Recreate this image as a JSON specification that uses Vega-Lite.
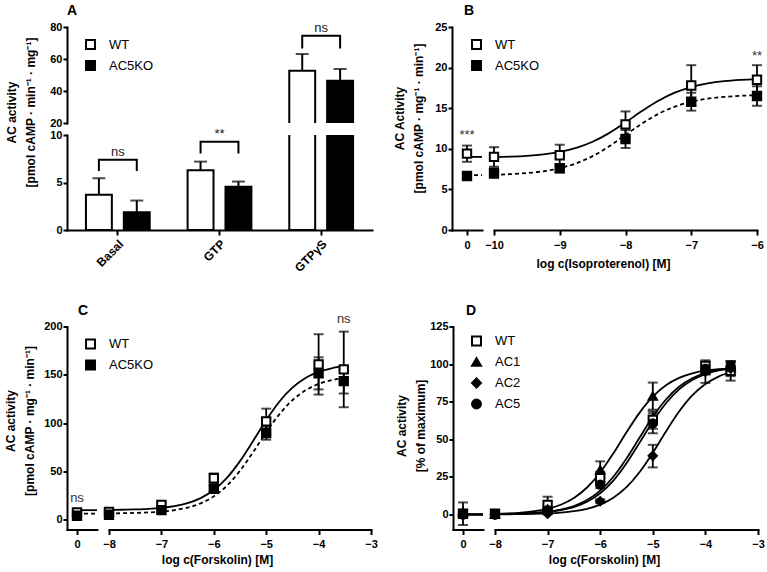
{
  "$schema": "https://vega.github.io/schema/vega-lite/v6.json",
  "background": "white",
  "padding": {"left": 3, "top": 4, "right": 5, "bottom": 5},
  "config": {
    "font": "Liberation Sans",
    "view": {"stroke": null},
    "axis": {"domainColor": "black", "domainWidth": 2, "domainCap": "square", "tickColor": "black", "tickWidth": 2, "labelFont": "Liberation Sans", "labelFontWeight": "bold", "labelFontSize": 11, "labelColor": "black", "titleFont": "Liberation Sans", "titleFontWeight": "bold", "titleFontSize": 12, "titleColor": "black", "grid": false, "labelFlush": false, "labelOverlap": false},
    "axisX": {"tickSize": 5, "labelPadding": 4},
    "axisY": {"tickSize": 4, "labelPadding": 1, "titleLineHeight": 19},
    "legend": {"symbolStrokeColor": "black", "symbolStrokeWidth": 2, "symbolSize": 80, "symbolBaseFillColor": "transparent", "labelFont": "Liberation Sans", "labelFontSize": 13, "labelColor": "black", "labelOffset": 12, "rowPadding": 4, "padding": 0},
    "title": {"anchor": "start", "frame": "group", "fontSize": 14, "font": "Liberation Sans", "fontWeight": "bold", "color": "black"}
  },
  "datasets": {
    "bars": [
      {"group": "Basal", "cond": "WT", "mean": 3.7, "hi": 5.45},
      {"group": "Basal", "cond": "AC5KO", "mean": 1.86, "hi": 3.1},
      {"group": "GTP", "cond": "WT", "mean": 6.3, "hi": 7.2},
      {"group": "GTP", "cond": "AC5KO", "mean": 4.56, "hi": 5.1},
      {"group": "GTPγS", "cond": "WT", "mean": 52.7, "hi": 63.1},
      {"group": "GTPγS", "cond": "AC5KO", "mean": 46.4, "hi": 53.75}
    ],
    "brackets": [
      {"group": "Basal", "cond": "WT", "y": 6.2, "k": 1},
      {"group": "Basal", "cond": "WT", "y": 7.4, "k": 2},
      {"group": "Basal", "cond": "AC5KO", "y": 7.4, "k": 3},
      {"group": "Basal", "cond": "AC5KO", "y": 6.2, "k": 4},
      {"group": "GTP", "cond": "WT", "y": 8.05, "k": 1},
      {"group": "GTP", "cond": "WT", "y": 9.28, "k": 2},
      {"group": "GTP", "cond": "AC5KO", "y": 9.28, "k": 3},
      {"group": "GTP", "cond": "AC5KO", "y": 8.05, "k": 4},
      {"group": "GTPγS", "cond": "WT", "y": 66.6, "k": 1},
      {"group": "GTPγS", "cond": "WT", "y": 74.5, "k": 2},
      {"group": "GTPγS", "cond": "AC5KO", "y": 74.5, "k": 3},
      {"group": "GTPγS", "cond": "AC5KO", "y": 66.6, "k": 4}
    ],
    "anotes": [
      {"group": "Basal", "label": "ns", "y": 7.4},
      {"group": "GTP", "label": "**", "y": 9.28},
      {"group": "GTPγS", "label": "ns", "y": 74.5}
    ],
    "bpts": [
      {"s": "WT", "x": 0, "mean": 9.4, "lo": 8.4, "hi": 10.4},
      {"s": "WT", "x": -10, "mean": 9.0, "lo": 7.8, "hi": 10.2},
      {"s": "WT", "x": -9, "mean": 9.2, "lo": 7.9, "hi": 10.5},
      {"s": "WT", "x": -8, "mean": 13.0, "lo": 11.4, "hi": 14.6},
      {"s": "WT", "x": -7, "mean": 17.8, "lo": 15.3, "hi": 20.3},
      {"s": "WT", "x": -6, "mean": 18.5, "lo": 16.7, "hi": 20.3},
      {"s": "AC5KO", "x": 0, "mean": 6.65, "lo": 6.2, "hi": 7.1},
      {"s": "AC5KO", "x": -10, "mean": 7.0, "lo": 6.4, "hi": 7.6},
      {"s": "AC5KO", "x": -9, "mean": 7.6, "lo": 7.1, "hi": 8.1},
      {"s": "AC5KO", "x": -8, "mean": 11.2, "lo": 10.1, "hi": 12.3},
      {"s": "AC5KO", "x": -7, "mean": 15.8, "lo": 14.7, "hi": 16.9},
      {"s": "AC5KO", "x": -6, "mean": 16.5, "lo": 15.3, "hi": 17.7}
    ],
    "bcurve": [
      {"s": "WT", "x": 0, "y": 9.0}, {"s": "WT", "x": 1, "y": 9.0},
      {"s": "WT", "x": -10, "y": 8.98}, {"s": "WT", "x": -9.75, "y": 9.04}, {"s": "WT", "x": -9.5, "y": 9.14}, {"s": "WT", "x": -9.25, "y": 9.32},
      {"s": "WT", "x": -9, "y": 9.62}, {"s": "WT", "x": -8.75, "y": 10.11}, {"s": "WT", "x": -8.5, "y": 10.87}, {"s": "WT", "x": -8.25, "y": 11.93},
      {"s": "WT", "x": -8, "y": 13.24}, {"s": "WT", "x": -7.75, "y": 14.64}, {"s": "WT", "x": -7.5, "y": 15.91}, {"s": "WT", "x": -7.25, "y": 16.91},
      {"s": "WT", "x": -7, "y": 17.6}, {"s": "WT", "x": -6.75, "y": 18.05}, {"s": "WT", "x": -6.5, "y": 18.33}, {"s": "WT", "x": -6.25, "y": 18.49},
      {"s": "WT", "x": -6, "y": 18.58},
      {"s": "AC5KO", "x": 0, "y": 6.75}, {"s": "AC5KO", "x": 1, "y": 6.75},
      {"s": "AC5KO", "x": -10, "y": 6.8}, {"s": "AC5KO", "x": -9.75, "y": 6.88}, {"s": "AC5KO", "x": -9.5, "y": 7.01}, {"s": "AC5KO", "x": -9.25, "y": 7.23},
      {"s": "AC5KO", "x": -9, "y": 7.61}, {"s": "AC5KO", "x": -8.75, "y": 8.21}, {"s": "AC5KO", "x": -8.5, "y": 9.1}, {"s": "AC5KO", "x": -8.25, "y": 10.3},
      {"s": "AC5KO", "x": -8, "y": 11.7}, {"s": "AC5KO", "x": -7.75, "y": 13.1}, {"s": "AC5KO", "x": -7.5, "y": 14.3}, {"s": "AC5KO", "x": -7.25, "y": 15.19},
      {"s": "AC5KO", "x": -7, "y": 15.79}, {"s": "AC5KO", "x": -6.75, "y": 16.17}, {"s": "AC5KO", "x": -6.5, "y": 16.39}, {"s": "AC5KO", "x": -6.25, "y": 16.53},
      {"s": "AC5KO", "x": -6, "y": 16.6}
    ],
    "cpts": [
      {"s": "WT", "x": 0, "mean": 7.6, "lo": 5.5, "hi": 9.7},
      {"s": "WT", "x": -8, "mean": 8.3, "lo": 6.5, "hi": 10.1},
      {"s": "WT", "x": -7, "mean": 15.3, "lo": 12.3, "hi": 18.3},
      {"s": "WT", "x": -6, "mean": 43, "lo": 38, "hi": 48},
      {"s": "WT", "x": -5, "mean": 101.9, "lo": 88.8, "hi": 115},
      {"s": "WT", "x": -4, "mean": 160.8, "lo": 129.6, "hi": 192},
      {"s": "WT", "x": -3.52, "mean": 155.6, "lo": 116.5, "hi": 194.7},
      {"s": "AC5KO", "x": 0, "mean": 4.2, "lo": 2.2, "hi": 6.2},
      {"s": "AC5KO", "x": -8, "mean": 5.2, "lo": 3.5, "hi": 6.9},
      {"s": "AC5KO", "x": -7, "mean": 10, "lo": 8, "hi": 12},
      {"s": "AC5KO", "x": -6, "mean": 32, "lo": 29, "hi": 35},
      {"s": "AC5KO", "x": -5, "mean": 89.8, "lo": 82.9, "hi": 96.7},
      {"s": "AC5KO", "x": -4, "mean": 151.5, "lo": 134.9, "hi": 168.1},
      {"s": "AC5KO", "x": -3.52, "mean": 143.5, "lo": 130.7, "hi": 156.3}
    ],
    "ccurve": [
      {"s": "WT", "x": 0, "y": 10}, {"s": "WT", "x": 2, "y": 10},
      {"s": "WT", "x": -8, "y": 10.24}, {"s": "WT", "x": -7.75, "y": 10.43}, {"s": "WT", "x": -7.5, "y": 10.76}, {"s": "WT", "x": -7.25, "y": 11.34},
      {"s": "WT", "x": -7, "y": 12.37}, {"s": "WT", "x": -6.75, "y": 14.17}, {"s": "WT", "x": -6.5, "y": 17.25}, {"s": "WT", "x": -6.25, "y": 22.44},
      {"s": "WT", "x": -6, "y": 30.79}, {"s": "WT", "x": -5.75, "y": 43.42}, {"s": "WT", "x": -5.5, "y": 60.75}, {"s": "WT", "x": -5.25, "y": 81.63},
      {"s": "WT", "x": -5, "y": 103.2}, {"s": "WT", "x": -4.75, "y": 122.2}, {"s": "WT", "x": -4.5, "y": 136.7}, {"s": "WT", "x": -4.25, "y": 146.7},
      {"s": "WT", "x": -4, "y": 153.0}, {"s": "WT", "x": -3.75, "y": 156.8}, {"s": "WT", "x": -3.52, "y": 158.9},
      {"s": "AC5KO", "x": 0, "y": 6.5}, {"s": "AC5KO", "x": 2, "y": 6.5},
      {"s": "AC5KO", "x": -8, "y": 6.7}, {"s": "AC5KO", "x": -7.75, "y": 6.86}, {"s": "AC5KO", "x": -7.5, "y": 7.14}, {"s": "AC5KO", "x": -7.25, "y": 7.63},
      {"s": "AC5KO", "x": -7, "y": 8.5}, {"s": "AC5KO", "x": -6.75, "y": 10.02}, {"s": "AC5KO", "x": -6.5, "y": 12.63}, {"s": "AC5KO", "x": -6.25, "y": 17.06},
      {"s": "AC5KO", "x": -6, "y": 24.27}, {"s": "AC5KO", "x": -5.75, "y": 35.31}, {"s": "AC5KO", "x": -5.5, "y": 50.8}, {"s": "AC5KO", "x": -5.25, "y": 70.03},
      {"s": "AC5KO", "x": -5, "y": 90.52}, {"s": "AC5KO", "x": -4.75, "y": 109.15}, {"s": "AC5KO", "x": -4.5, "y": 123.74}, {"s": "AC5KO", "x": -4.25, "y": 133.96},
      {"s": "AC5KO", "x": -4, "y": 140.52}, {"s": "AC5KO", "x": -3.75, "y": 144.5}, {"s": "AC5KO", "x": -3.52, "y": 146.72}
    ],
    "dpts": [
      {"s": "WT", "x": 0, "mean": 0.5, "lo": -7, "hi": 8},
      {"s": "WT", "x": -8, "mean": 0.5, "lo": -0.5, "hi": 1.5},
      {"s": "WT", "x": -7, "mean": 6.3, "lo": 0.8, "hi": 11.8},
      {"s": "WT", "x": -6, "mean": 24.2, "lo": 20, "hi": 28.4},
      {"s": "WT", "x": -5, "mean": 62.8, "lo": 57, "hi": 68.6},
      {"s": "WT", "x": -4, "mean": 98.7, "lo": 96, "hi": 101.4},
      {"s": "WT", "x": -3.52, "mean": 95.5, "lo": 89, "hi": 102},
      {"s": "AC1", "x": 0, "mean": 1.5, "lo": 0, "hi": 3},
      {"s": "AC1", "x": -8, "mean": 0, "lo": -0.5, "hi": 0.5},
      {"s": "AC1", "x": -7, "mean": 3.5, "lo": 2.5, "hi": 4.5},
      {"s": "AC1", "x": -6, "mean": 29.7, "lo": 24.1, "hi": 35.3},
      {"s": "AC1", "x": -5, "mean": 78.7, "lo": 69.7, "hi": 87.7},
      {"s": "AC1", "x": -4, "mean": 96, "lo": 93, "hi": 99},
      {"s": "AC1", "x": -3.52, "mean": 98, "lo": 95, "hi": 101},
      {"s": "AC2", "x": 0, "mean": 0, "lo": -1, "hi": 1},
      {"s": "AC2", "x": -8, "mean": 0, "lo": -0.5, "hi": 0.5},
      {"s": "AC2", "x": -7, "mean": 0.5, "lo": 0, "hi": 1},
      {"s": "AC2", "x": -6, "mean": 8.8, "lo": 7.5, "hi": 10.1},
      {"s": "AC2", "x": -5, "mean": 39, "lo": 31.3, "hi": 46.3},
      {"s": "AC2", "x": -4, "mean": 95, "lo": 87.5, "hi": 102.5},
      {"s": "AC2", "x": -3.52, "mean": 97, "lo": 92, "hi": 102},
      {"s": "AC5", "x": 0, "mean": 0, "lo": -1, "hi": 1},
      {"s": "AC5", "x": -8, "mean": 0, "lo": -0.5, "hi": 0.5},
      {"s": "AC5", "x": -7, "mean": 2.8, "lo": 2, "hi": 3.6},
      {"s": "AC5", "x": -6, "mean": 19.8, "lo": 17.5, "hi": 22.1},
      {"s": "AC5", "x": -5, "mean": 60.6, "lo": 54, "hi": 67.2},
      {"s": "AC5", "x": -4, "mean": 97, "lo": 95, "hi": 99},
      {"s": "AC5", "x": -3.52, "mean": 98.5, "lo": 96, "hi": 101}
    ],
    "dcurve": [
      {"s": "WT", "x": 0, "y": 0}, {"s": "WT", "x": 2, "y": 0},
      {"s": "AC1", "x": 0, "y": 0}, {"s": "AC1", "x": 2, "y": 0},
      {"s": "AC2", "x": 0, "y": 0}, {"s": "AC2", "x": 2, "y": 0},
      {"s": "AC5", "x": 0, "y": 0}, {"s": "AC5", "x": 2, "y": 0},
      {"s": "AC1", "x": -8, "y": 0.39}, {"s": "AC1", "x": -7.75, "y": 0.69}, {"s": "AC1", "x": -7.5, "y": 1.22}, {"s": "AC1", "x": -7.25, "y": 2.15},
      {"s": "AC1", "x": -7, "y": 3.75}, {"s": "AC1", "x": -6.75, "y": 6.48}, {"s": "AC1", "x": -6.5, "y": 10.96}, {"s": "AC1", "x": -6.25, "y": 17.93},
      {"s": "AC1", "x": -6, "y": 27.9}, {"s": "AC1", "x": -5.75, "y": 40.61}, {"s": "AC1", "x": -5.5, "y": 54.61}, {"s": "AC1", "x": -5.25, "y": 67.74},
      {"s": "AC1", "x": -5, "y": 78.32}, {"s": "AC1", "x": -4.75, "y": 85.87}, {"s": "AC1", "x": -4.5, "y": 90.79}, {"s": "AC1", "x": -4.25, "y": 93.81},
      {"s": "AC1", "x": -4, "y": 95.6}, {"s": "AC1", "x": -3.75, "y": 96.63}, {"s": "AC1", "x": -3.52, "y": 97.19},
      {"s": "WT", "x": -8, "y": 0.19}, {"s": "WT", "x": -7.75, "y": 0.33}, {"s": "WT", "x": -7.5, "y": 0.59}, {"s": "WT", "x": -7.25, "y": 1.05},
      {"s": "WT", "x": -7, "y": 1.85}, {"s": "WT", "x": -6.75, "y": 3.25}, {"s": "WT", "x": -6.5, "y": 5.63}, {"s": "WT", "x": -6.25, "y": 9.58},
      {"s": "WT", "x": -6, "y": 15.85}, {"s": "WT", "x": -5.75, "y": 25.06}, {"s": "WT", "x": -5.5, "y": 37.22}, {"s": "WT", "x": -5.25, "y": 51.21},
      {"s": "WT", "x": -5, "y": 64.93}, {"s": "WT", "x": -4.75, "y": 76.44}, {"s": "WT", "x": -4.5, "y": 84.91}, {"s": "WT", "x": -4.25, "y": 90.55},
      {"s": "WT", "x": -4, "y": 94.07}, {"s": "WT", "x": -3.75, "y": 96.16}, {"s": "WT", "x": -3.52, "y": 97.31},
      {"s": "AC5", "x": -8, "y": 0.16}, {"s": "AC5", "x": -7.75, "y": 0.29}, {"s": "AC5", "x": -7.5, "y": 0.52}, {"s": "AC5", "x": -7.25, "y": 0.92},
      {"s": "AC5", "x": -7, "y": 1.62}, {"s": "AC5", "x": -6.75, "y": 2.84}, {"s": "AC5", "x": -6.5, "y": 4.94}, {"s": "AC5", "x": -6.25, "y": 8.45},
      {"s": "AC5", "x": -6, "y": 14.09}, {"s": "AC5", "x": -5.75, "y": 22.56}, {"s": "AC5", "x": -5.5, "y": 34.08}, {"s": "AC5", "x": -5.25, "y": 47.78},
      {"s": "AC5", "x": -5, "y": 61.77}, {"s": "AC5", "x": -4.75, "y": 73.95}, {"s": "AC5", "x": -4.5, "y": 83.16}, {"s": "AC5", "x": -4.25, "y": 89.41},
      {"s": "AC5", "x": -4, "y": 93.37}, {"s": "AC5", "x": -3.75, "y": 95.75}, {"s": "AC5", "x": -3.52, "y": 97.06},
      {"s": "AC2", "x": -8, "y": 0.07}, {"s": "AC2", "x": -7.75, "y": 0.12}, {"s": "AC2", "x": -7.5, "y": 0.22}, {"s": "AC2", "x": -7.25, "y": 0.39},
      {"s": "AC2", "x": -7, "y": 0.7}, {"s": "AC2", "x": -6.75, "y": 1.23}, {"s": "AC2", "x": -6.5, "y": 2.17}, {"s": "AC2", "x": -6.25, "y": 3.79},
      {"s": "AC2", "x": -6, "y": 6.54}, {"s": "AC2", "x": -5.75, "y": 11.07}, {"s": "AC2", "x": -5.5, "y": 18.11}, {"s": "AC2", "x": -5.25, "y": 28.19},
      {"s": "AC2", "x": -5, "y": 41.03}, {"s": "AC2", "x": -4.75, "y": 55.17}, {"s": "AC2", "x": -4.5, "y": 68.43}, {"s": "AC2", "x": -4.25, "y": 79.12},
      {"s": "AC2", "x": -4, "y": 86.74}, {"s": "AC2", "x": -3.75, "y": 91.71}, {"s": "AC2", "x": -3.52, "y": 94.57}
    ]
  },
  "bounds": "full",
  "spacing": 29.5,
  "resolve": {"scale": {"fill": "independent", "shape": "independent"}},
  "vconcat": [
    {
      "bounds": "full",
      "spacing": 20,
      "resolve": {"scale": {"fill": "independent", "shape": "independent"}},
      "hconcat": [
        {
          "bounds": "flush",
          "spacing": 12,
          "resolve": {"scale": {"fill": "independent", "shape": "independent"}},
          "vconcat": [
            {
              "width": 305, "height": 96,
              "title": {"text": "A", "anchor": "start", "frame": "group", "dx": 0, "offset": 3},
              "encoding": {"x": {"field": "group", "type": "nominal", "scale": {"domain": ["Basal", "GTP", "GTPγS"], "paddingInner": 0, "paddingOuter": 0}, "axis": null}},
              "layer": [
                {"data": {"name": "bars"}, "transform": [{"filter": "datum.group === 'GTPγS'"}],
                 "mark": {"type": "rule", "color": "black", "strokeWidth": 2},
                 "encoding": {"xOffset": {"field": "cond", "type": "nominal", "scale": {"domain": ["WT", "AC5KO"], "paddingInner": 0.316, "paddingOuter": 0.5}},
                              "y": {"field": "mean", "type": "quantitative", "scale": {"domain": [20, 80], "nice": false, "zero": false}, "axis": {"values": [20, 40, 60, 80], "title": null}},
                              "y2": {"field": "hi"}}},
                {"data": {"name": "bars"}, "transform": [{"filter": "datum.group === 'GTPγS'"}],
                 "mark": {"type": "tick", "orient": "horizontal", "size": 13, "thickness": 2, "color": "black"},
                 "encoding": {"xOffset": {"field": "cond", "type": "nominal", "scale": {"domain": ["WT", "AC5KO"], "paddingInner": 0.316, "paddingOuter": 0.5}},
                              "y": {"field": "hi", "type": "quantitative", "scale": {"domain": [20, 80], "nice": false, "zero": false}, "axis": {"values": [20, 40, 60, 80], "title": null}}}},
                {"data": {"name": "bars"},
                 "mark": {"type": "bar", "stroke": "black", "strokeWidth": 2, "clip": true},
                 "encoding": {"xOffset": {"field": "cond", "type": "nominal", "scale": {"domain": ["WT", "AC5KO"], "paddingInner": 0.316, "paddingOuter": 0.5}},
                              "y": {"field": "mean", "type": "quantitative", "scale": {"domain": [20, 80], "nice": false, "zero": false}, "axis": {"values": [20, 40, 60, 80], "title": null}},
                              "fill": {"field": "cond", "type": "nominal", "scale": {"domain": ["WT", "AC5KO"], "range": ["white", "black"]}, "legend": {"orient": "none", "legendX": 17, "legendY": 11, "title": null, "symbolType": "square"}}}},
                {"data": {"name": "brackets"}, "transform": [{"filter": "datum.group === 'GTPγS'"}],
                 "mark": {"type": "line", "color": "black", "strokeWidth": 2},
                 "encoding": {"xOffset": {"field": "cond", "type": "nominal", "scale": {"domain": ["WT", "AC5KO"], "paddingInner": 0.316, "paddingOuter": 0.5}},
                              "y": {"field": "y", "type": "quantitative", "scale": {"domain": [20, 80], "nice": false, "zero": false}, "axis": {"values": [20, 40, 60, 80], "title": null}},
                              "detail": {"field": "group"},
                              "order": {"field": "k", "type": "quantitative"}}},
                {"data": {"name": "anotes"}, "transform": [{"filter": "datum.group === 'GTPγS'"}],
                 "mark": {"type": "text", "font": "Liberation Sans", "fontSize": 13, "color": "#222222", "dy": -4, "baseline": "alphabetic"},
                 "encoding": {"y": {"field": "y", "type": "quantitative", "scale": {"domain": [20, 80], "nice": false, "zero": false}, "axis": {"values": [20, 40, 60, 80], "title": null}},
                              "text": {"field": "label"}}}
              ]
            },
            {
              "width": 305, "height": 95,
              "encoding": {"x": {"field": "group", "type": "nominal", "scale": {"domain": ["Basal", "GTP", "GTPγS"], "paddingInner": 0, "paddingOuter": 0}, "axis": {"title": null, "labelAngle": -45, "labelFontSize": 12, "labelPadding": 3}}},
              "layer": [
                {"data": {"name": "bars"}, "transform": [{"filter": "datum.group !== 'GTPγS'"}],
                 "mark": {"type": "rule", "color": "black", "strokeWidth": 2},
                 "encoding": {"xOffset": {"field": "cond", "type": "nominal", "scale": {"domain": ["WT", "AC5KO"], "paddingInner": 0.316, "paddingOuter": 0.5}},
                              "y": {"field": "mean", "type": "quantitative", "scale": {"domain": [0, 10], "nice": false}, "axis": {"values": [0, 5, 10], "title": ["AC activity", "[pmol cAMP · min⁻¹ · mg⁻¹]"], "titleX": -49, "titleY": -23}},
                              "y2": {"field": "hi"}}},
                {"data": {"name": "bars"}, "transform": [{"filter": "datum.group !== 'GTPγS'"}],
                 "mark": {"type": "tick", "orient": "horizontal", "size": 13, "thickness": 2, "color": "black"},
                 "encoding": {"xOffset": {"field": "cond", "type": "nominal", "scale": {"domain": ["WT", "AC5KO"], "paddingInner": 0.316, "paddingOuter": 0.5}},
                              "y": {"field": "hi", "type": "quantitative", "scale": {"domain": [0, 10], "nice": false}, "axis": {"values": [0, 5, 10], "title": ["AC activity", "[pmol cAMP · min⁻¹ · mg⁻¹]"], "titleX": -49, "titleY": -23}}}},
                {"data": {"name": "bars"},
                 "mark": {"type": "bar", "stroke": "black", "strokeWidth": 2, "clip": true},
                 "encoding": {"xOffset": {"field": "cond", "type": "nominal", "scale": {"domain": ["WT", "AC5KO"], "paddingInner": 0.316, "paddingOuter": 0.5}},
                              "y": {"field": "mean", "type": "quantitative", "scale": {"domain": [0, 10], "nice": false}, "axis": {"values": [0, 5, 10], "title": ["AC activity", "[pmol cAMP · min⁻¹ · mg⁻¹]"], "titleX": -49, "titleY": -23}},
                              "fill": {"field": "cond", "type": "nominal", "scale": {"domain": ["WT", "AC5KO"], "range": ["white", "black"]}, "legend": null}}},
                {"data": {"name": "brackets"}, "transform": [{"filter": "datum.group !== 'GTPγS'"}],
                 "mark": {"type": "line", "color": "black", "strokeWidth": 2},
                 "encoding": {"xOffset": {"field": "cond", "type": "nominal", "scale": {"domain": ["WT", "AC5KO"], "paddingInner": 0.316, "paddingOuter": 0.5}},
                              "y": {"field": "y", "type": "quantitative", "scale": {"domain": [0, 10], "nice": false}, "axis": {"values": [0, 5, 10], "title": ["AC activity", "[pmol cAMP · min⁻¹ · mg⁻¹]"], "titleX": -49, "titleY": -23}},
                              "detail": {"field": "group"},
                              "order": {"field": "k", "type": "quantitative"}}},
                {"data": {"name": "anotes"}, "transform": [{"filter": "datum.group !== 'GTPγS'"}],
                 "mark": {"type": "text", "font": "Liberation Sans", "fontSize": 13, "color": "#222222", "dy": -4, "baseline": "alphabetic"},
                 "encoding": {"y": {"field": "y", "type": "quantitative", "scale": {"domain": [0, 10], "nice": false}, "axis": {"values": [0, 5, 10], "title": ["AC activity", "[pmol cAMP · min⁻¹ · mg⁻¹]"], "titleX": -49, "titleY": -23}},
                              "text": {"field": "label"}}}
              ]
            }
          ]
        },
        {
          "bounds": "flush",
          "spacing": 12,
          "resolve": {"scale": {"fill": "independent", "shape": "independent"}},
          "hconcat": [
            {
              "width": 30, "height": 203,
              "title": {"text": "B", "anchor": "start", "frame": "group", "dx": 12, "offset": 3},
              "encoding": {"x": {"field": "x", "type": "quantitative", "scale": {"domain": [-1, 1], "nice": false, "zero": false}, "axis": {"values": [0], "title": null}}},
              "layer": [
                {"data": {"name": "bcurve"}, "transform": [{"filter": "datum.x >= 0 && datum.s === 'WT'"}],
                 "mark": {"type": "line", "color": "black", "strokeWidth": 1.8},
                 "encoding": {"y": {"field": "y", "type": "quantitative", "scale": {"domain": [0, 25], "nice": false}, "axis": {"values": [0, 5, 10, 15, 20, 25], "title": ["AC Activity", "[pmol cAMP · mg⁻¹ · min⁻¹]"], "titleX": -46, "titleY": 91}}}},
                {"data": {"name": "bcurve"}, "transform": [{"filter": "datum.x >= 0 && datum.s === 'AC5KO'"}],
                 "mark": {"type": "line", "color": "black", "strokeWidth": 1.8, "strokeDash": [4, 3]},
                 "encoding": {"y": {"field": "y", "type": "quantitative", "scale": {"domain": [0, 25], "nice": false}, "axis": {"values": [0, 5, 10, 15, 20, 25], "title": ["AC Activity", "[pmol cAMP · mg⁻¹ · min⁻¹]"], "titleX": -46, "titleY": 91}}}},
                {"data": {"name": "bpts"}, "transform": [{"filter": "datum.x >= 0"}],
                 "mark": {"type": "rule", "color": "black", "strokeWidth": 1.8},
                 "encoding": {"y": {"field": "lo", "type": "quantitative", "scale": {"domain": [0, 25], "nice": false}, "axis": {"values": [0, 5, 10, 15, 20, 25], "title": ["AC Activity", "[pmol cAMP · mg⁻¹ · min⁻¹]"], "titleX": -46, "titleY": 91}}, "y2": {"field": "hi"}}},
                {"data": {"name": "bpts"}, "transform": [{"filter": "datum.x >= 0"}],
                 "mark": {"type": "tick", "orient": "horizontal", "size": 10, "thickness": 2, "color": "black"},
                 "encoding": {"y": {"field": "lo", "type": "quantitative", "scale": {"domain": [0, 25], "nice": false}, "axis": {"values": [0, 5, 10, 15, 20, 25], "title": ["AC Activity", "[pmol cAMP · mg⁻¹ · min⁻¹]"], "titleX": -46, "titleY": 91}}}},
                {"data": {"name": "bpts"}, "transform": [{"filter": "datum.x >= 0"}],
                 "mark": {"type": "tick", "orient": "horizontal", "size": 10, "thickness": 2, "color": "black"},
                 "encoding": {"y": {"field": "hi", "type": "quantitative", "scale": {"domain": [0, 25], "nice": false}, "axis": {"values": [0, 5, 10, 15, 20, 25], "title": ["AC Activity", "[pmol cAMP · mg⁻¹ · min⁻¹]"], "titleX": -46, "titleY": 91}}}},
                {"data": {"name": "bpts"}, "transform": [{"filter": "datum.x >= 0"}],
                 "mark": {"type": "point", "filled": true, "stroke": "black", "strokeWidth": 2, "size": 70, "opacity": 1},
                 "encoding": {"y": {"field": "mean", "type": "quantitative", "scale": {"domain": [0, 25], "nice": false}, "axis": {"values": [0, 5, 10, 15, 20, 25], "title": ["AC Activity", "[pmol cAMP · mg⁻¹ · min⁻¹]"], "titleX": -46, "titleY": 91}},
                              "shape": {"field": "s", "type": "nominal", "scale": {"domain": ["WT", "AC5KO"], "range": ["square", "square"]}, "legend": {"orient": "none", "legendX": 18, "legendY": 11, "title": null, "symbolFillColor": "white", "symbolStrokeColor": "black"}},
                              "fill": {"field": "s", "type": "nominal", "scale": {"domain": ["WT", "AC5KO"], "range": ["white", "black"]}, "legend": {"orient": "none", "legendX": 18, "legendY": 11, "title": null, "symbolFillColor": "white", "symbolStrokeColor": "black"}}}},
                {"data": {"values": [{"x": 0, "y": 11.15, "label": "***"}]},
                 "mark": {"type": "text", "font": "Liberation Sans", "fontSize": 13, "color": "#333333", "baseline": "alphabetic"},
                 "encoding": {"y": {"field": "y", "type": "quantitative", "scale": {"domain": [0, 25], "nice": false}, "axis": {"values": [0, 5, 10, 15, 20, 25], "title": ["AC Activity", "[pmol cAMP · mg⁻¹ · min⁻¹]"], "titleX": -46, "titleY": 91}}, "text": {"field": "label"}}},
                {"data": {"values": [{}]},
                 "mark": {"type": "tick", "orient": "vertical", "size": 9, "thickness": 2, "color": "black"},
                 "encoding": {"x": {"datum": 1, "type": "quantitative", "scale": {"domain": [-1, 1], "nice": false, "zero": false}, "axis": {"values": [0], "title": null}},
                              "y": {"datum": 0, "type": "quantitative", "scale": {"domain": [0, 25], "nice": false}, "axis": {"values": [0, 5, 10, 15, 20, 25], "title": ["AC Activity", "[pmol cAMP · mg⁻¹ · min⁻¹]"], "titleX": -46, "titleY": 91}}}}
              ]
            },
            {
              "width": 263, "height": 203,
              "encoding": {"x": {"field": "x", "type": "quantitative", "scale": {"domain": [-10, -6], "nice": false, "zero": false}, "axis": {"values": [-10, -9, -8, -7, -6], "title": "log c(Isoproterenol) [M]", "titleX": 109, "titlePadding": 8}}},
              "layer": [
                {"data": {"name": "bcurve"}, "transform": [{"filter": "datum.x < 0 && datum.s === 'WT'"}],
                 "mark": {"type": "line", "color": "black", "strokeWidth": 1.8, "interpolate": "monotone"},
                 "encoding": {"y": {"field": "y", "type": "quantitative", "scale": {"domain": [0, 25], "nice": false}, "axis": null}}},
                {"data": {"name": "bcurve"}, "transform": [{"filter": "datum.x < 0 && datum.s === 'AC5KO'"}],
                 "mark": {"type": "line", "color": "black", "strokeWidth": 1.8, "interpolate": "monotone", "strokeDash": [4, 3]},
                 "encoding": {"y": {"field": "y", "type": "quantitative", "scale": {"domain": [0, 25], "nice": false}, "axis": null}}},
                {"data": {"name": "bpts"}, "transform": [{"filter": "datum.x < 0"}],
                 "mark": {"type": "rule", "color": "black", "strokeWidth": 1.8},
                 "encoding": {"y": {"field": "lo", "type": "quantitative", "scale": {"domain": [0, 25], "nice": false}, "axis": null}, "y2": {"field": "hi"}}},
                {"data": {"name": "bpts"}, "transform": [{"filter": "datum.x < 0"}],
                 "mark": {"type": "tick", "orient": "horizontal", "size": 10, "thickness": 2, "color": "black"},
                 "encoding": {"y": {"field": "lo", "type": "quantitative", "scale": {"domain": [0, 25], "nice": false}, "axis": null}}},
                {"data": {"name": "bpts"}, "transform": [{"filter": "datum.x < 0"}],
                 "mark": {"type": "tick", "orient": "horizontal", "size": 10, "thickness": 2, "color": "black"},
                 "encoding": {"y": {"field": "hi", "type": "quantitative", "scale": {"domain": [0, 25], "nice": false}, "axis": null}}},
                {"data": {"name": "bpts"}, "transform": [{"filter": "datum.x < 0"}],
                 "mark": {"type": "point", "filled": true, "stroke": "black", "strokeWidth": 2, "size": 70, "opacity": 1},
                 "encoding": {"y": {"field": "mean", "type": "quantitative", "scale": {"domain": [0, 25], "nice": false}, "axis": null},
                              "shape": {"field": "s", "type": "nominal", "scale": {"domain": ["WT", "AC5KO"], "range": ["square", "square"]}, "legend": null},
                              "fill": {"field": "s", "type": "nominal", "scale": {"domain": ["WT", "AC5KO"], "range": ["white", "black"]}, "legend": null}}},
                {"data": {"values": [{"x": -6, "y": 20.9, "label": "**"}]},
                 "mark": {"type": "text", "font": "Liberation Sans", "fontSize": 13, "color": "#333333", "baseline": "alphabetic"},
                 "encoding": {"y": {"field": "y", "type": "quantitative", "scale": {"domain": [0, 25], "nice": false}, "axis": null}, "text": {"field": "label"}}},
                {"data": {"values": [{}]},
                 "mark": {"type": "tick", "orient": "vertical", "size": 9, "thickness": 2, "color": "black"},
                 "encoding": {"x": {"datum": -10, "type": "quantitative", "scale": {"domain": [-10, -6], "nice": false, "zero": false}, "axis": {"values": [-10, -9, -8, -7, -6], "title": "log c(Isoproterenol) [M]", "titleX": 109, "titlePadding": 8}},
                              "y": {"datum": 0, "type": "quantitative", "scale": {"domain": [0, 25], "nice": false}, "axis": null}}}
              ]
            }
          ]
        }
      ]
    },
    {
      "bounds": "full",
      "spacing": 17,
      "resolve": {"scale": {"fill": "independent", "shape": "independent"}},
      "hconcat": [
        {
          "bounds": "flush",
          "spacing": 12,
          "resolve": {"scale": {"fill": "independent", "shape": "independent"}},
          "hconcat": [
            {
              "width": 30, "height": 203,
              "title": {"text": "C", "anchor": "start", "frame": "group", "dx": 11, "offset": 3},
              "encoding": {"x": {"field": "x", "type": "quantitative", "scale": {"domain": [-1, 2], "nice": false, "zero": false}, "axis": {"values": [0], "title": null}}},
              "layer": [
                {"data": {"name": "ccurve"}, "transform": [{"filter": "datum.x >= 0 && datum.s === 'WT'"}],
                 "mark": {"type": "line", "color": "black", "strokeWidth": 1.8},
                 "encoding": {"y": {"field": "y", "type": "quantitative", "scale": {"domain": [-10, 200], "nice": false, "zero": false}, "axis": {"values": [0, 50, 100, 150, 200], "title": ["AC activity", "[pmol cAMP · mg⁻¹ · min⁻¹]"], "titleX": -50, "titleY": 94}}}},
                {"data": {"name": "ccurve"}, "transform": [{"filter": "datum.x >= 0 && datum.s === 'AC5KO'"}],
                 "mark": {"type": "line", "color": "black", "strokeWidth": 1.8, "strokeDash": [4, 3]},
                 "encoding": {"y": {"field": "y", "type": "quantitative", "scale": {"domain": [-10, 200], "nice": false, "zero": false}, "axis": {"values": [0, 50, 100, 150, 200], "title": ["AC activity", "[pmol cAMP · mg⁻¹ · min⁻¹]"], "titleX": -50, "titleY": 94}}}},
                {"data": {"name": "cpts"}, "transform": [{"filter": "datum.x >= 0"}],
                 "mark": {"type": "rule", "color": "black", "strokeWidth": 1.8},
                 "encoding": {"y": {"field": "lo", "type": "quantitative", "scale": {"domain": [-10, 200], "nice": false, "zero": false}, "axis": {"values": [0, 50, 100, 150, 200], "title": ["AC activity", "[pmol cAMP · mg⁻¹ · min⁻¹]"], "titleX": -50, "titleY": 94}}, "y2": {"field": "hi"}}},
                {"data": {"name": "cpts"}, "transform": [{"filter": "datum.x >= 0"}],
                 "mark": {"type": "tick", "orient": "horizontal", "size": 10, "thickness": 2, "color": "black"},
                 "encoding": {"y": {"field": "lo", "type": "quantitative", "scale": {"domain": [-10, 200], "nice": false, "zero": false}, "axis": {"values": [0, 50, 100, 150, 200], "title": ["AC activity", "[pmol cAMP · mg⁻¹ · min⁻¹]"], "titleX": -50, "titleY": 94}}}},
                {"data": {"name": "cpts"}, "transform": [{"filter": "datum.x >= 0"}],
                 "mark": {"type": "tick", "orient": "horizontal", "size": 10, "thickness": 2, "color": "black"},
                 "encoding": {"y": {"field": "hi", "type": "quantitative", "scale": {"domain": [-10, 200], "nice": false, "zero": false}, "axis": {"values": [0, 50, 100, 150, 200], "title": ["AC activity", "[pmol cAMP · mg⁻¹ · min⁻¹]"], "titleX": -50, "titleY": 94}}}},
                {"data": {"name": "cpts"}, "transform": [{"filter": "datum.x >= 0"}],
                 "mark": {"type": "point", "filled": true, "stroke": "black", "strokeWidth": 2, "size": 70, "opacity": 1},
                 "encoding": {"y": {"field": "mean", "type": "quantitative", "scale": {"domain": [-10, 200], "nice": false, "zero": false}, "axis": {"values": [0, 50, 100, 150, 200], "title": ["AC activity", "[pmol cAMP · mg⁻¹ · min⁻¹]"], "titleX": -50, "titleY": 94}},
                              "shape": {"field": "s", "type": "nominal", "scale": {"domain": ["WT", "AC5KO"], "range": ["square", "square"]}, "legend": {"orient": "none", "legendX": 17, "legendY": 11, "title": null, "symbolFillColor": "white", "symbolStrokeColor": "black"}},
                              "fill": {"field": "s", "type": "nominal", "scale": {"domain": ["WT", "AC5KO"], "range": ["white", "black"]}, "legend": {"orient": "none", "legendX": 17, "legendY": 11, "title": null, "symbolFillColor": "white", "symbolStrokeColor": "black"}}}},
                {"data": {"values": [{"x": 0, "y": 18.7, "label": "ns"}]},
                 "mark": {"type": "text", "font": "Liberation Sans", "fontSize": 13, "color": "#333333", "baseline": "alphabetic"},
                 "encoding": {"y": {"field": "y", "type": "quantitative", "scale": {"domain": [-10, 200], "nice": false, "zero": false}, "axis": {"values": [0, 50, 100, 150, 200], "title": ["AC activity", "[pmol cAMP · mg⁻¹ · min⁻¹]"], "titleX": -50, "titleY": 94}}, "text": {"field": "label"}}},
                {"data": {"values": [{}]},
                 "mark": {"type": "tick", "orient": "vertical", "size": 9, "thickness": 2, "color": "black"},
                 "encoding": {"x": {"datum": 2, "type": "quantitative", "scale": {"domain": [-1, 2], "nice": false, "zero": false}, "axis": {"values": [0], "title": null}},
                              "y": {"datum": -10, "type": "quantitative", "scale": {"domain": [-10, 200], "nice": false, "zero": false}, "axis": {"values": [0, 50, 100, 150, 200], "title": ["AC activity", "[pmol cAMP · mg⁻¹ · min⁻¹]"], "titleX": -50, "titleY": 94}}}}
              ]
            },
            {
              "width": 262, "height": 203,
              "encoding": {"x": {"field": "x", "type": "quantitative", "scale": {"domain": [-8, -3], "nice": false, "zero": false}, "axis": {"values": [-8, -7, -6, -5, -4, -3], "title": "log c(Forskolin) [M]", "titleX": 108, "titlePadding": 5}}},
              "layer": [
                {"data": {"name": "ccurve"}, "transform": [{"filter": "datum.x < 0 && datum.s === 'WT'"}],
                 "mark": {"type": "line", "color": "black", "strokeWidth": 1.8, "interpolate": "monotone"},
                 "encoding": {"y": {"field": "y", "type": "quantitative", "scale": {"domain": [-10, 200], "nice": false, "zero": false}, "axis": null}}},
                {"data": {"name": "ccurve"}, "transform": [{"filter": "datum.x < 0 && datum.s === 'AC5KO'"}],
                 "mark": {"type": "line", "color": "black", "strokeWidth": 1.8, "interpolate": "monotone", "strokeDash": [4, 3]},
                 "encoding": {"y": {"field": "y", "type": "quantitative", "scale": {"domain": [-10, 200], "nice": false, "zero": false}, "axis": null}}},
                {"data": {"name": "cpts"}, "transform": [{"filter": "datum.x < 0"}],
                 "mark": {"type": "rule", "color": "black", "strokeWidth": 1.8},
                 "encoding": {"y": {"field": "lo", "type": "quantitative", "scale": {"domain": [-10, 200], "nice": false, "zero": false}, "axis": null}, "y2": {"field": "hi"}}},
                {"data": {"name": "cpts"}, "transform": [{"filter": "datum.x < 0"}],
                 "mark": {"type": "tick", "orient": "horizontal", "size": 10, "thickness": 2, "color": "black"},
                 "encoding": {"y": {"field": "lo", "type": "quantitative", "scale": {"domain": [-10, 200], "nice": false, "zero": false}, "axis": null}}},
                {"data": {"name": "cpts"}, "transform": [{"filter": "datum.x < 0"}],
                 "mark": {"type": "tick", "orient": "horizontal", "size": 10, "thickness": 2, "color": "black"},
                 "encoding": {"y": {"field": "hi", "type": "quantitative", "scale": {"domain": [-10, 200], "nice": false, "zero": false}, "axis": null}}},
                {"data": {"name": "cpts"}, "transform": [{"filter": "datum.x < 0"}],
                 "mark": {"type": "point", "filled": true, "stroke": "black", "strokeWidth": 2, "size": 70, "opacity": 1},
                 "encoding": {"y": {"field": "mean", "type": "quantitative", "scale": {"domain": [-10, 200], "nice": false, "zero": false}, "axis": null},
                              "shape": {"field": "s", "type": "nominal", "scale": {"domain": ["WT", "AC5KO"], "range": ["square", "square"]}, "legend": null},
                              "fill": {"field": "s", "type": "nominal", "scale": {"domain": ["WT", "AC5KO"], "range": ["white", "black"]}, "legend": null}}},
                {"data": {"values": [{"x": -3.52, "y": 203.9, "label": "ns"}]},
                 "mark": {"type": "text", "font": "Liberation Sans", "fontSize": 13, "color": "#333333", "baseline": "alphabetic"},
                 "encoding": {"y": {"field": "y", "type": "quantitative", "scale": {"domain": [-10, 200], "nice": false, "zero": false}, "axis": null}, "text": {"field": "label"}}},
                {"data": {"values": [{}]},
                 "mark": {"type": "tick", "orient": "vertical", "size": 9, "thickness": 2, "color": "black"},
                 "encoding": {"x": {"datum": -8, "type": "quantitative", "scale": {"domain": [-8, -3], "nice": false, "zero": false}, "axis": {"values": [-8, -7, -6, -5, -4, -3], "title": "log c(Forskolin) [M]", "titleX": 108, "titlePadding": 5}},
                              "y": {"datum": -10, "type": "quantitative", "scale": {"domain": [-10, 200], "nice": false, "zero": false}, "axis": null}}}
              ]
            }
          ]
        },
        {
          "bounds": "flush",
          "spacing": 12,
          "resolve": {"scale": {"fill": "independent", "shape": "independent"}},
          "hconcat": [
            {
              "width": 30, "height": 203,
              "title": {"text": "D", "anchor": "start", "frame": "group", "dx": 13, "offset": 3},
              "encoding": {"x": {"field": "x", "type": "quantitative", "scale": {"domain": [-1, 2], "nice": false, "zero": false}, "axis": {"values": [0], "title": null}}},
              "layer": [
                {"data": {"name": "dcurve"}, "transform": [{"filter": "datum.x >= 0"}],
                 "mark": {"type": "line", "color": "black", "strokeWidth": 1.8},
                 "encoding": {"y": {"field": "y", "type": "quantitative", "scale": {"domain": [-10, 125], "nice": false, "zero": false}, "axis": {"values": [0, 25, 50, 75, 100, 125], "title": ["AC activity", "[% of maximum]"], "titleX": -45, "titleY": 99}},
                              "detail": {"field": "s"}}},
                {"data": {"name": "dpts"}, "transform": [{"filter": "datum.x >= 0"}],
                 "mark": {"type": "rule", "color": "black", "strokeWidth": 1.8},
                 "encoding": {"y": {"field": "lo", "type": "quantitative", "scale": {"domain": [-10, 125], "nice": false, "zero": false}, "axis": {"values": [0, 25, 50, 75, 100, 125], "title": ["AC activity", "[% of maximum]"], "titleX": -45, "titleY": 99}}, "y2": {"field": "hi"}}},
                {"data": {"name": "dpts"}, "transform": [{"filter": "datum.x >= 0"}],
                 "mark": {"type": "tick", "orient": "horizontal", "size": 10, "thickness": 2, "color": "black"},
                 "encoding": {"y": {"field": "lo", "type": "quantitative", "scale": {"domain": [-10, 125], "nice": false, "zero": false}, "axis": {"values": [0, 25, 50, 75, 100, 125], "title": ["AC activity", "[% of maximum]"], "titleX": -45, "titleY": 99}}}},
                {"data": {"name": "dpts"}, "transform": [{"filter": "datum.x >= 0"}],
                 "mark": {"type": "tick", "orient": "horizontal", "size": 10, "thickness": 2, "color": "black"},
                 "encoding": {"y": {"field": "hi", "type": "quantitative", "scale": {"domain": [-10, 125], "nice": false, "zero": false}, "axis": {"values": [0, 25, 50, 75, 100, 125], "title": ["AC activity", "[% of maximum]"], "titleX": -45, "titleY": 99}}}},
                {"data": {"name": "dpts"}, "transform": [{"filter": "datum.x >= 0"}],
                 "mark": {"type": "point", "filled": true, "stroke": "black", "strokeWidth": 2, "size": 70, "opacity": 1},
                 "encoding": {"y": {"field": "mean", "type": "quantitative", "scale": {"domain": [-10, 125], "nice": false, "zero": false}, "axis": {"values": [0, 25, 50, 75, 100, 125], "title": ["AC activity", "[% of maximum]"], "titleX": -45, "titleY": 99}},
                              "shape": {"field": "s", "type": "nominal", "scale": {"domain": ["WT", "AC1", "AC2", "AC5"], "range": ["square", "triangle-up", "diamond", "circle"]}, "legend": {"orient": "none", "legendX": 17, "legendY": 8, "title": null, "symbolFillColor": "white", "symbolStrokeColor": "black"}},
                              "fill": {"field": "s", "type": "nominal", "scale": {"domain": ["WT", "AC1", "AC2", "AC5"], "range": ["white", "black", "black", "black"]}, "legend": {"orient": "none", "legendX": 17, "legendY": 8, "title": null, "symbolFillColor": "white", "symbolStrokeColor": "black"}}}},
                {"data": {"values": [{}]},
                 "mark": {"type": "tick", "orient": "vertical", "size": 9, "thickness": 2, "color": "black"},
                 "encoding": {"x": {"datum": 2, "type": "quantitative", "scale": {"domain": [-1, 2], "nice": false, "zero": false}, "axis": {"values": [0], "title": null}},
                              "y": {"datum": -10, "type": "quantitative", "scale": {"domain": [-10, 125], "nice": false, "zero": false}, "axis": {"values": [0, 25, 50, 75, 100, 125], "title": ["AC activity", "[% of maximum]"], "titleX": -45, "titleY": 99}}}}
              ]
            },
            {
              "width": 263, "height": 203,
              "encoding": {"x": {"field": "x", "type": "quantitative", "scale": {"domain": [-8, -3], "nice": false, "zero": false}, "axis": {"values": [-8, -7, -6, -5, -4, -3], "title": "log c(Forskolin) [M]", "titleX": 109, "titlePadding": 5}}},
              "layer": [
                {"data": {"name": "dcurve"}, "transform": [{"filter": "datum.x < 0"}],
                 "mark": {"type": "line", "color": "black", "strokeWidth": 1.8, "interpolate": "monotone"},
                 "encoding": {"y": {"field": "y", "type": "quantitative", "scale": {"domain": [-10, 125], "nice": false, "zero": false}, "axis": null},
                              "detail": {"field": "s"}}},
                {"data": {"name": "dpts"}, "transform": [{"filter": "datum.x < 0"}],
                 "mark": {"type": "rule", "color": "black", "strokeWidth": 1.8},
                 "encoding": {"y": {"field": "lo", "type": "quantitative", "scale": {"domain": [-10, 125], "nice": false, "zero": false}, "axis": null}, "y2": {"field": "hi"}}},
                {"data": {"name": "dpts"}, "transform": [{"filter": "datum.x < 0"}],
                 "mark": {"type": "tick", "orient": "horizontal", "size": 10, "thickness": 2, "color": "black"},
                 "encoding": {"y": {"field": "lo", "type": "quantitative", "scale": {"domain": [-10, 125], "nice": false, "zero": false}, "axis": null}}},
                {"data": {"name": "dpts"}, "transform": [{"filter": "datum.x < 0"}],
                 "mark": {"type": "tick", "orient": "horizontal", "size": 10, "thickness": 2, "color": "black"},
                 "encoding": {"y": {"field": "hi", "type": "quantitative", "scale": {"domain": [-10, 125], "nice": false, "zero": false}, "axis": null}}},
                {"data": {"name": "dpts"}, "transform": [{"filter": "datum.x < 0"}],
                 "mark": {"type": "point", "filled": true, "stroke": "black", "strokeWidth": 2, "size": 70, "opacity": 1},
                 "encoding": {"y": {"field": "mean", "type": "quantitative", "scale": {"domain": [-10, 125], "nice": false, "zero": false}, "axis": null},
                              "shape": {"field": "s", "type": "nominal", "scale": {"domain": ["WT", "AC1", "AC2", "AC5"], "range": ["square", "triangle-up", "diamond", "circle"]}, "legend": null},
                              "fill": {"field": "s", "type": "nominal", "scale": {"domain": ["WT", "AC1", "AC2", "AC5"], "range": ["white", "black", "black", "black"]}, "legend": null}}},
                {"data": {"values": [{}]},
                 "mark": {"type": "tick", "orient": "vertical", "size": 9, "thickness": 2, "color": "black"},
                 "encoding": {"x": {"datum": -8, "type": "quantitative", "scale": {"domain": [-8, -3], "nice": false, "zero": false}, "axis": {"values": [-8, -7, -6, -5, -4, -3], "title": "log c(Forskolin) [M]", "titleX": 109, "titlePadding": 5}},
                              "y": {"datum": -10, "type": "quantitative", "scale": {"domain": [-10, 125], "nice": false, "zero": false}, "axis": null}}}
              ]
            }
          ]
        }
      ]
    }
  ]
}
